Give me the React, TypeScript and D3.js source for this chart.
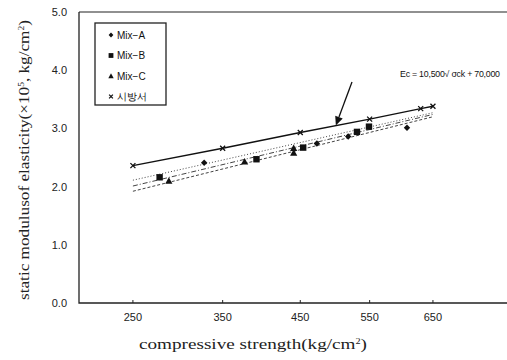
import React from "react";
import * as d3 from "d3";

const W = 507;
const H = 360;

const xTicks = [250, 350, 450, 550, 650];
const yTicks = [0, 1, 2, 3, 4, 5];
const yTickLabels = ["0.0", "1.0", "2.0", "3.0", "4.0", "5.0"];

// Mix-A (diamonds)
const mixA_x = [328, 473, 518, 608];
const mixA_y = [2.41, 2.74, 2.86, 3.01];
// Mix-B (squares)
const mixB_x = [278, 392, 454, 531, 549];
const mixB_y = [2.16, 2.47, 2.67, 2.94, 3.03];
// Mix-C (triangles)
const mixC_x = [288, 377, 441, 441];
const mixC_y = [2.1, 2.43, 2.58, 2.66];
// 시방서 (x markers, solid line)
const spec_x = [250, 350, 450, 550, 630, 650];
const spec_y = [2.36, 2.66, 2.93, 3.16, 3.34, 3.38];

// regression lines (endpoints)
const regX = [250, 650];
const regA = [2.11, 3.27];
const regB = [2.01, 3.24];
const regC = [1.92, 3.2];

const legendLabels = ["Mix−A", "Mix−B", "Mix−C", "시방서"];
const annotation = "Ec = 10,500√ σck + 70,000";
const arrowTarget = [500, 3.05];

const xScale = d3.scaleSqrt().domain([198, 774]).range([79, 505]);
const yScale = d3.scaleLinear().domain([0, 5]).range([303, 12]);

const sans = "'Liberation Sans', Arial, sans-serif";
const serif = "'Liberation Serif', 'Times New Roman', serif";

function Marker({ type, x, y, s = 1 }: { type: string; x: number; y: number; s?: number }) {
  if (type === "diamond") {
    const r = 3.2 * s;
    return <path d={`M${x},${y - r}L${x + r},${y}L${x},${y + r}L${x - r},${y}Z`} fill="#111" />;
  }
  if (type === "square") {
    const r = 3.2 * s;
    return <rect x={x - r} y={y - r} width={2 * r} height={2 * r} fill="#111" />;
  }
  if (type === "triangle") {
    const r = 3.6 * s;
    return <path d={`M${x},${y - r}L${x + r},${y + r * 0.8}L${x - r},${y + r * 0.8}Z`} fill="#111" />;
  }
  const r = 2.5 * s;
  return (
    <path
      d={`M${x - r},${y - r}L${x + r},${y + r}M${x - r},${y + r}L${x + r},${y - r}`}
      stroke="#111"
      strokeWidth={1.3}
    />
  );
}

export default function App() {
  const line = d3
    .line<[number, number]>()
    .x((d) => xScale(d[0]))
    .y((d) => yScale(d[1]));

  const pairs = (xs: number[], ys: number[]) => xs.map((v, i) => [v, ys[i]] as [number, number]);

  const x0 = 79, x1 = 505, y0 = 303, y1 = 12;

  const ax = xScale(arrowTarget[0]);
  const ay = yScale(arrowTarget[1]);
  const sx = 352, sy = 82;
  const ang = Math.atan2(ay - sy, ax - sx);
  const hl = 9, hw = 4;
  const bx = ax - hl * Math.cos(ang), by = ay - hl * Math.sin(ang);
  const head = `M${ax},${ay}L${bx + hw * Math.sin(ang)},${by - hw * Math.cos(ang)}L${bx - hw * Math.sin(ang)},${by + hw * Math.cos(ang)}Z`;

  const legendTypes = ["diamond", "square", "triangle", "x"];

  return (
    <svg
      width={W}
      height={H}
      style={{ position: "absolute", left: 0, top: 0, background: "#fff" }}
    >
      <rect x={0} y={0} width={W} height={H} fill="#fff" />
      {/* frame */}
      <path d={`M${x0},${y1}L${x1 + 2},${y1}`} stroke="#222" strokeWidth={1.2} fill="none" />
      <path d={`M${x0},${y1}L${x0},${y0}L${x1 + 2},${y0}`} stroke="#222" strokeWidth={1.3} fill="none" />

      {/* x ticks */}
      {xTicks.map((t) => (
        <g key={t}>
          <line x1={xScale(t)} x2={xScale(t)} y1={y0} y2={y0 - 3} stroke="#222" />
          <text x={xScale(t)} y={y0 + 18} textAnchor="middle" fontFamily={sans} fontSize={11} fill="#222">
            {t}
          </text>
        </g>
      ))}
      {/* y ticks */}
      {yTicks.map((t, i) => (
        <text key={t} x={67} y={yScale(t) + 4} textAnchor="end" fontFamily={sans} fontSize={11} fill="#222">
          {yTickLabels[i]}
        </text>
      ))}

      {/* axis titles */}
      <text
        transform={`translate(29,${160}) rotate(-90)`}
        textAnchor="middle"
        fontFamily={serif}
        fontSize={14.5}
        fill="#222"
        textLength={280}
        lengthAdjust="spacingAndGlyphs"
      >
        static modulusof elasticity(×10<tspan fontSize={8} dy={-5}>5</tspan>
        <tspan dy={5}>, kg/cm</tspan>
        <tspan fontSize={8} dy={-5}>2</tspan>
        <tspan dy={5}>)</tspan>
      </text>
      <text
        x={253}
        y={349}
        textAnchor="middle"
        fontFamily={serif}
        fontSize={15}
        fill="#222"
        textLength={228}
        lengthAdjust="spacingAndGlyphs"
      >
        compressive strength(kg/cm<tspan fontSize={8} dy={-5}>2</tspan>
        <tspan dy={5}>)</tspan>
      </text>

      {/* regression lines */}
      <path d={line(pairs(regX, regA)) || ""} stroke="#444" strokeWidth={1} strokeDasharray="1,2" fill="none" />
      <path d={line(pairs(regX, regB)) || ""} stroke="#444" strokeWidth={1} strokeDasharray="5,2,1,2" fill="none" />
      <path d={line(pairs(regX, regC)) || ""} stroke="#444" strokeWidth={1} strokeDasharray="3,2" fill="none" />

      {/* spec solid line */}
      <path d={line(pairs(spec_x, spec_y)) || ""} stroke="#111" strokeWidth={1.4} fill="none" />
      {pairs(spec_x, spec_y).map((p, i) => (
        <Marker key={"s" + i} type="x" x={xScale(p[0])} y={yScale(p[1])} />
      ))}

      {pairs(mixA_x, mixA_y).map((p, i) => (
        <Marker key={"a" + i} type="diamond" x={xScale(p[0])} y={yScale(p[1])} />
      ))}
      {pairs(mixB_x, mixB_y).map((p, i) => (
        <Marker key={"b" + i} type="square" x={xScale(p[0])} y={yScale(p[1])} />
      ))}
      {pairs(mixC_x, mixC_y).map((p, i) => (
        <Marker key={"c" + i} type="triangle" x={xScale(p[0])} y={yScale(p[1])} />
      ))}

      {/* annotation */}
      <text
        x={400}
        y={77}
        fontFamily={sans}
        fontSize={8.8}
        fill="#111"
        textLength={100}
        lengthAdjust="spacing"
      >
        {annotation}
      </text>
      <line x1={sx} y1={sy} x2={bx} y2={by} stroke="#111" strokeWidth={1.3} />
      <path d={head} fill="#111" />

      {/* legend */}
      <rect x={95} y={23} width={71} height={82} fill="#fff" stroke="#222" strokeWidth={1.3} />
      {legendLabels.map((l, i) => {
        const yy = 35 + i * 20.5;
        return (
          <g key={l}>
            <Marker type={legendTypes[i]} x={111} y={yy} s={0.75} />
            <text x={117} y={yy + 3.5} fontFamily={sans} fontSize={10} fill="#111">
              {l}
            </text>
          </g>
        );
      })}
    </svg>
  );
}
